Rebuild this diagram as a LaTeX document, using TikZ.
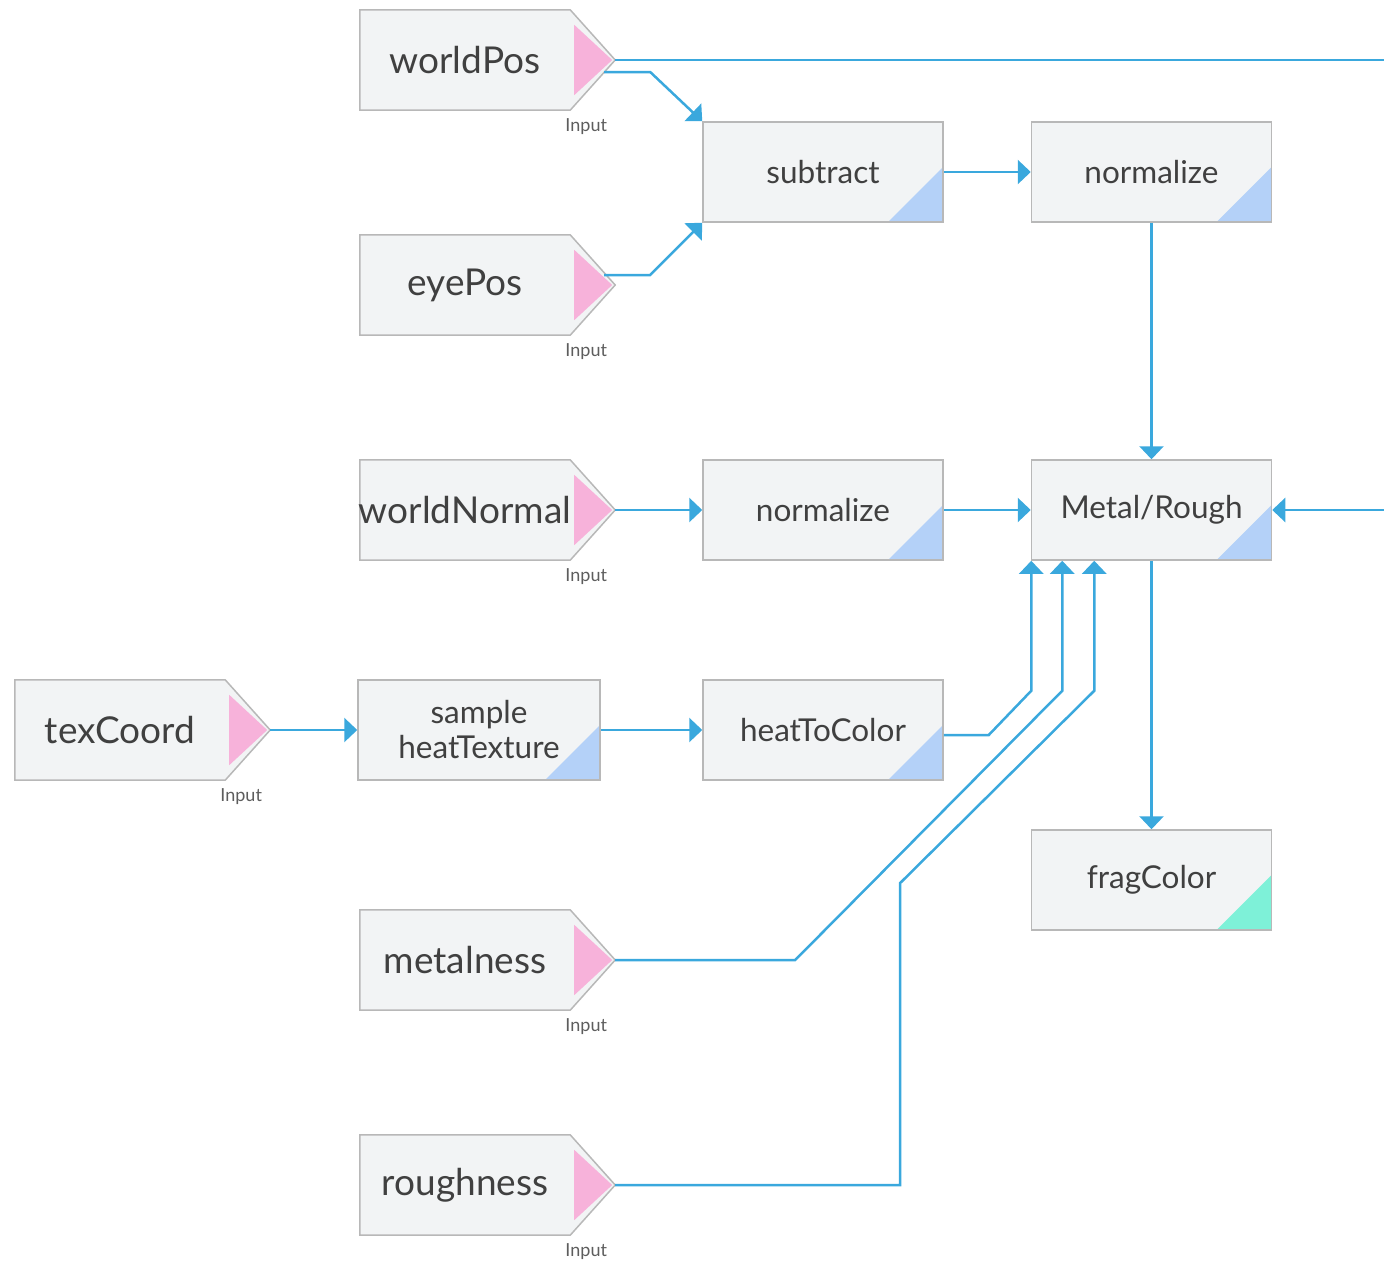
\documentclass[tikz,border=0pt]{standalone}
\usepackage{fontspec}
\setmainfont{Lato}
\usepackage{xcolor}
\usepackage{tikz}
\usetikzlibrary{positioning, calc, arrows.meta, backgrounds}

\definecolor{boxfill}{HTML}{F2F4F5}
\definecolor{boxline}{HTML}{B8B8B8}
\definecolor{pinfill}{HTML}{F7B2DA}
\definecolor{cornerblue}{HTML}{B4D1F8}
\definecolor{cornerteal}{HTML}{7EF1D8}
\definecolor{wirecol}{HTML}{3AA8DD}
\definecolor{txt}{HTML}{404040}

% input node: box with a pointed output side and a pink pin
\newcommand{\inputnode}[3]{%
  \node[inbox, label={[intext]center:#3}] (#1) at (#2) {};
  \coordinate (#1-out) at ($(#1.east)+(45,0)$);
  \begin{pgfonlayer}{background}
    \filldraw[inshape] (#1.north west) -- (#1.north east) -- (#1-out)
      -- (#1.south east) -- (#1.south west) -- cycle;
    \fill[pinfill] ($(#1.north east)+(4,15)$) -- ($(#1-out)+(-3,0)$)
      -- ($(#1.south east)+(4,-15)$) -- cycle;
  \end{pgfonlayer}
  \node[inlabel] at ($(#1.south east)+(16,16)$) {Input};
}

\begin{document}
\begin{tikzpicture}[x=1pt,y=-1pt]
	\tikzstyle{inbox}=[rectangle,minimum width=210,minimum height=100,inner sep=0]
	\tikzstyle{intext}=[text=txt,font=\fontsize{37}{42}\selectfont,inner sep=0]
	\tikzstyle{inshape}=[fill=boxfill,draw=boxline,line width=1.5pt]
	\tikzstyle{inlabel}=[text=txt!85,font=\fontsize{18}{20}\selectfont,inner sep=0]
	\tikzstyle{wire}=[draw=wirecol,line width=2.5pt,-{Triangle[length=13pt,width=24pt]}]
	\tikzset{fn/.style={rectangle,minimum width=240,minimum height=100,inner sep=0,
			fill=boxfill,draw=boxline,line width=1.5pt,text=txt,align=center,
			font=\fontsize{31.5}{38}\selectfont,
			path picture={\fill[#1] (path picture bounding box.south east)
				-- ++(0,-55) -- ++(-55,55) -- cycle;}},
		fn/.default=cornerblue}

	\clip (0,0) rectangle (1384,1261);

	\inputnode{worldPos}{465,60}{worldPos}
	\inputnode{eyePos}{465,285}{eyePos}
	\inputnode{worldNormal}{465,510}{worldNormal}
	\inputnode{texCoord}{120,730}{texCoord}
	\inputnode{metalness}{465,960}{metalness}
	\inputnode{roughness}{465,1185}{roughness}

	\node[fn](subtract) at (823,172){subtract};
	\node[fn](normTop) at (1151.5,172){normalize};
	\node[fn](normMid) at (823,510){normalize};
	\node[fn](metalRough) at (1151.5,510){Metal/Rough};
	\node[fn,minimum width=242](sample) at (479,730){sample\\[-3pt]heatTexture};
	\node[fn](heat) at (823,730){heatToColor};
	\node[fn=cornerteal](fragColor) at (1151.5,880){fragColor};

	\coordinate (offRight) at (1430,0);
	\coordinate (mrIn1) at ($(metalRough.south west)+(0.5,0)$);
	\coordinate (mrIn2) at ($(metalRough.south west)+(31.5,0)$);
	\coordinate (mrIn3) at ($(metalRough.south west)+(63.5,0)$);

	\draw[wire] (worldPos-out) -| (offRight |- metalRough.east) -- (metalRough.east);
	\draw[wire] ([shift={(-11,12)}]worldPos-out) -- ++(46,0) -- (subtract.north west);
	\draw[wire] ([shift={(-11,-10)}]eyePos-out) -- ++(46,0) -- (subtract.south west);
	\draw[wire] (subtract) -- (normTop);
	\draw[wire] (normTop) -- (metalRough);
	\draw[wire] (worldNormal-out) -- (normMid.west);
	\draw[wire] (normMid) -- (metalRough);
	\draw[wire] (texCoord-out) -- (sample.west);
	\draw[wire] (sample) -- (heat);
	\draw[wire] ([shift={(0,5)}]heat.east) -- ++(45,0) -- ($(mrIn1)+(0,130)$) -- (mrIn1);
	\draw[wire] (metalness-out) -- ++(180,0) -- ($(mrIn2)+(0,130)$) -- (mrIn2);
	\draw[wire] (roughness-out) -- ++(285,0) -- ++(0,-302) -- ($(mrIn3)+(0,130)$) -- (mrIn3);
	\draw[wire] (metalRough) -- (fragColor);
\end{tikzpicture}
\end{document}
